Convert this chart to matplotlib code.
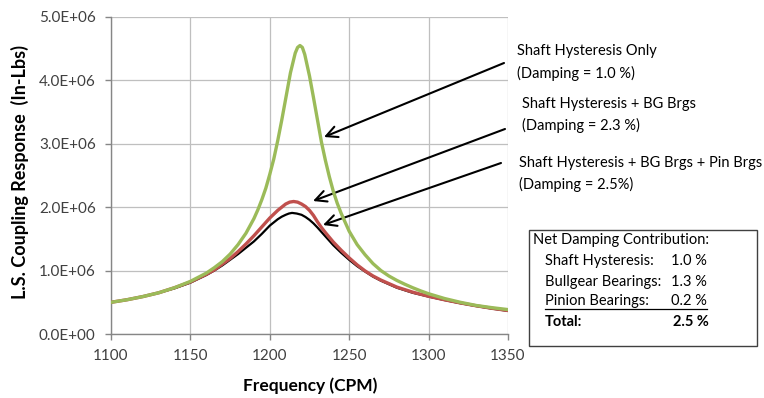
import matplotlib
matplotlib.use('Agg')
import matplotlib.pyplot as plt
from matplotlib.patches import Rectangle
from matplotlib.lines import Line2D
from matplotlib.ticker import FuncFormatter, MultipleLocator

# Shaft hysteresis only (damping 1.0 %)
freq_green = [1100, 1110, 1120, 1130, 1140, 1150, 1160, 1165, 1170, 1175, 1180,
              1185, 1190, 1192.5, 1195, 1197.5, 1200, 1202.5, 1205, 1207.5, 1210,
              1213, 1216, 1217.5, 1219, 1220.5, 1222, 1225, 1227.5, 1230, 1232.5,
              1235, 1237.5, 1240, 1242.5, 1245, 1250, 1255, 1260, 1265, 1270,
              1275, 1280, 1285, 1290, 1295, 1300, 1310, 1320, 1330, 1340, 1350]
resp_green = [0.50, 0.54, 0.59, 0.65, 0.73, 0.83, 0.96, 1.045, 1.14, 1.26, 1.41,
              1.59, 1.82, 1.96, 2.12, 2.30, 2.52, 2.76, 3.05, 3.37, 3.71,
              4.12, 4.43, 4.52, 4.55, 4.52, 4.41, 4.07, 3.73, 3.38, 3.03,
              2.74, 2.48, 2.25, 2.06, 1.90, 1.62, 1.41, 1.25, 1.11, 1.00,
              0.915, 0.845, 0.785, 0.73, 0.68, 0.635, 0.56, 0.50, 0.45, 0.415, 0.385]

# Shaft hysteresis + BG brgs (damping 2.3 %)
freq_red = [1100, 1110, 1120, 1130, 1140, 1150, 1160, 1165, 1170, 1175, 1180,
            1185, 1190, 1192.5, 1195, 1197.5, 1200, 1202.5, 1205, 1207.5, 1210,
            1212.5, 1215, 1217.5, 1220, 1222.5, 1225, 1227.5, 1230, 1232.5, 1235,
            1240, 1245, 1250, 1255, 1260, 1265, 1270, 1280, 1290, 1300, 1310,
            1320, 1330, 1340, 1350]
resp_red = [0.50, 0.54, 0.59, 0.65, 0.73, 0.82, 0.94, 1.01, 1.10, 1.19, 1.30,
            1.42, 1.55, 1.62, 1.69, 1.76, 1.83, 1.89, 1.95, 2.00, 2.05,
            2.08, 2.09, 2.08, 2.05, 2.01, 1.95, 1.87, 1.77, 1.68, 1.60,
            1.45, 1.32, 1.20, 1.09, 0.995, 0.915, 0.85, 0.74, 0.66, 0.595, 0.54,
            0.49, 0.445, 0.405, 0.37]

# Shaft hysteresis + BG brgs + pin brgs (damping 2.5 %)
freq_black = [1100, 1110, 1120, 1130, 1140, 1150, 1160, 1165, 1170, 1175, 1180,
              1185, 1190, 1192.5, 1195, 1197.5, 1200, 1202.5, 1205, 1207.5, 1210,
              1212, 1214, 1217, 1220, 1222.5, 1225, 1227.5, 1230, 1232.5, 1235,
              1237.5, 1240, 1245, 1250, 1255, 1260, 1265, 1270, 1280, 1290, 1300,
              1310, 1320, 1330, 1340, 1350]
resp_black = [0.50, 0.54, 0.59, 0.65, 0.72, 0.81, 0.93, 1.00, 1.08, 1.17, 1.26,
              1.36, 1.46, 1.52, 1.58, 1.645, 1.71, 1.76, 1.81, 1.85, 1.88,
              1.90, 1.91, 1.90, 1.88, 1.845, 1.80, 1.745, 1.68, 1.61, 1.54,
              1.47, 1.40, 1.28, 1.17, 1.07, 0.985, 0.905, 0.84, 0.73, 0.65, 0.59,
              0.535, 0.485, 0.44, 0.40, 0.365]

W, H = 764, 398
FONT = 'Lato'
plt.rcParams['font.family'] = [FONT, 'DejaVu Sans']


def fx(x):
    return x / W


def fy(y):
    return 1 - y / H


fig = plt.figure(figsize=(W / 100, H / 100), dpi=100)
ax = fig.add_axes([fx(111), fy(334), 397 / W, 317 / H])

ax.plot(freq_black, [v * 1e6 for v in resp_black], color='black', lw=1.6,
        solid_joinstyle='round', zorder=3)
ax.plot(freq_red, [v * 1e6 for v in resp_red], color='#C0504D', lw=2.4,
        solid_joinstyle='round', zorder=4)
ax.plot(freq_green, [v * 1e6 for v in resp_green], color='#9BBB59', lw=2.4,
        solid_joinstyle='round', zorder=5)

ax.set_xlim(1100, 1350)
ax.set_ylim(0, 5e6)
ax.xaxis.set_major_locator(MultipleLocator(50))
ax.yaxis.set_major_locator(MultipleLocator(1e6))
ax.yaxis.set_major_formatter(FuncFormatter(lambda v, p: '{:.1E}'.format(v)))
ax.grid(True, color='#BFBFBF', lw=0.9)
ax.set_axisbelow(True)
for s in ['top', 'right']:
    ax.spines[s].set_visible(False)
for s in ['left', 'bottom']:
    ax.spines[s].set_color('#868686')
    ax.spines[s].set_linewidth(1.0)
ax.tick_params(colors='#868686', length=4, width=1.0, labelsize=11, pad=7)
for lab in ax.get_xticklabels() + ax.get_yticklabels():
    lab.set_color('#404040')

fig.text(fx(20), fy(172), 'L.S. Coupling Response  (In-Lbs)', rotation=90,
         ha='center', va='center', fontsize=13, fontweight='bold')
fig.text(fx(310), fy(386), 'Frequency (CPM)', ha='center', va='center',
         fontsize=12.5, fontweight='bold')

# annotations
labels = [
    ('Shaft Hysteresis Only', 517, 51),
    ('(Damping = 1.0 %)', 517, 73),
    ('Shaft Hysteresis + BG Brgs', 522, 104),
    ('(Damping = 2.3 %)', 522, 125),
    ('Shaft Hysteresis + BG Brgs + Pin Brgs', 519, 163),
    ('(Damping = 2.5%)', 519, 184),
]
for txt, x, y in labels:
    fig.text(fx(x), fy(y), txt, ha='left', va='center', fontsize=10.5)

arrows = [((504, 63), (324, 137)), ((505, 129), (313, 201)), ((501, 163), (323, 225))]
for (x0, y0), (x1, y1) in arrows:
    ax.annotate('', xy=(x1, H - y1), xycoords='figure pixels',
                xytext=(x0, H - y0), textcoords='figure pixels',
                arrowprops=dict(arrowstyle='->,head_length=0.8,head_width=0.4',
                                color='black', lw=1.5, shrinkA=0, shrinkB=0))

# damping summary box
fig.add_artist(Rectangle((fx(529), fy(346)), 228 / W, 116 / H,
                         transform=fig.transFigure, fill=False,
                         edgecolor='#404040', lw=1.0))
fig.text(fx(533), fy(240), 'Net Damping Contribution:', ha='left', va='center', fontsize=10.5)
rows = [('Shaft Hysteresis:', '1.0 %', 261), ('Bullgear Bearings:', '1.3 %', 282),
        ('Pinion Bearings:', '0.2 %', 301)]
for name, val, y in rows:
    fig.text(fx(545), fy(y), name, ha='left', va='center', fontsize=10.5)
    fig.text(fx(707), fy(y), val, ha='right', va='center', fontsize=10.5)
fig.add_artist(Line2D([fx(545), fx(707)], [fy(309), fy(309)],
                      transform=fig.transFigure, color='black', lw=0.9))
fig.text(fx(545), fy(322), 'Total:', ha='left', va='center', fontsize=10.5, fontweight='bold')
fig.text(fx(709), fy(322), '2.5 %', ha='right', va='center', fontsize=10.5, fontweight='bold')

fig.savefig('out.png', dpi=100)
